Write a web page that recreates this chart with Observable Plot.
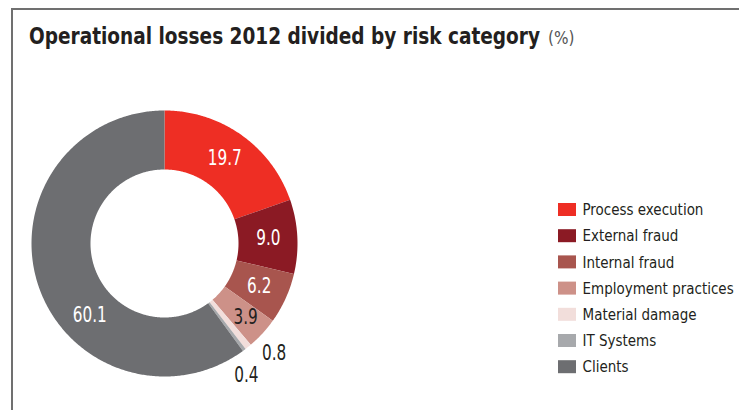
<!DOCTYPE html>
<html>
<head>
<meta charset="utf-8">
<script src="https://cdn.jsdelivr.net/npm/d3@7"></script>
<script src="https://cdn.jsdelivr.net/npm/@observablehq/plot@0.6"></script>
<style>
  html, body { margin: 0; padding: 0; background: #fff; }
  #wrap { position: relative; width: 739px; height: 410px; overflow: hidden; }
  #frame { position: absolute; left: 11px; top: 8px; right: 0; bottom: 0;
           border-top: 2px solid #707070; border-left: 2px solid #707070; }
  #title { position: absolute; left: 29px; top: 22px; white-space: nowrap; line-height: 28px;
           font-family: "DejaVu Sans Condensed", "Liberation Sans", sans-serif; color: #231f20; }
  #title .main { display: inline-block; font-weight: bold; font-size: 23px; transform-origin: 0 0; }
  #title .unit { font-weight: normal; font-size: 17px; color: #555; }
  #chart { position: absolute; left: 0; top: 0; }
</style>
</head>
<body>
<div id="wrap">
  <div id="frame"></div>
  <div id="title"><span class="main">Operational losses 2012 divided by risk category</span><span class="unit">(%)</span></div>
  <div id="chart"></div>
</div>
<script>
const categories = ["Process execution", "External fraud", "Internal fraud", "Employment practices", "Material damage", "IT Systems", "Clients"];
const values = [19.7, 9.0, 6.2, 3.9, 0.8, 0.4, 60.1];
const labels = ["19.7", "9.0", "6.2", "3.9", "0.8", "0.4", "60.1"];
const colors = ["#ee2e24", "#8b1a24", "#a8554e", "#cd9188", "#f2dedb", "#a7a9ac", "#6d6e71"];

const W = 739, H = 410;
const cx = 164, cy = 243, r0 = 74, r1 = 133;
const font = '"DejaVu Sans Condensed", "Liberation Sans", sans-serif';

// condensed title: scale horizontally to the reference width
{
  const main = document.querySelector("#title .main");
  const w = main.getBoundingClientRect().width;
  const k = 511 / w;
  main.style.transform = `scaleX(${k})`;
  main.style.marginRight = `${-(w * (1 - k)) + 8}px`;
}

const rows = categories.map((c, i) => ({category: c, value: values[i], label: labels[i], i}));
const arcs = d3.pie().sort(null).value(d => d.value)(rows);

const pts = [];
const pol = (a, r) => [cx + r * Math.sin(a), cy - r * Math.cos(a)];
for (const a of arcs) {
  const n = Math.max(4, Math.ceil((a.endAngle - a.startAngle) / 0.01));
  const ring = [];
  for (let k = 0; k <= n; k++) ring.push(pol(a.startAngle + (a.endAngle - a.startAngle) * k / n, r1));
  for (let k = n; k >= 0; k--) ring.push(pol(a.startAngle + (a.endAngle - a.startAngle) * k / n, r0));
  for (const [x, y] of ring) pts.push({category: a.data.category, x, y});
}

const deg = Math.PI / 180;
const labelData = arcs.map(a => {
  const mid = (a.startAngle + a.endAngle) / 2;
  let ang = mid, r = 104, fill = "white";
  if (a.data.value < 1) { r = 155; ang = mid + (a.data.value > 0.5 ? -6 : 5) * deg; fill = "#231f20"; }
  else if (a.data.value < 5) { r = 110; fill = "#231f20"; }
  if (a.data.value > 50) ang = a.startAngle + (a.endAngle - a.startAngle) * 0.38;
  const [x, y] = pol(ang, r);
  return {x, y, label: a.data.label, fill};
});

const legend = rows.map((d, i) => ({category: d.category, x: 558, y: 209.5 + i * 26.2}));

const plot = Plot.plot({
  width: W, height: H,
  margin: 0,
  x: {domain: [0, W], range: [0, W], axis: null},
  y: {domain: [0, H], range: [0, H], axis: null},
  color: {type: "ordinal", domain: categories, range: colors},
  style: {background: "transparent", fontFamily: font},
  marks: [
    Plot.line(pts, {x: "x", y: "y", z: "category", fill: "category", stroke: null, curve: "linear"}),
    Plot.text(labelData, {x: "x", y: "y", text: "label", fill: d => d.fill, fontSize: 20.5, textAnchor: "middle", lineAnchor: "middle", fontFamily: font, className: "vlabel"}),
    Plot.rect(legend, {x1: "x", x2: d => d.x + 18, y1: d => d.y - 6.5, y2: d => d.y + 6.5, fill: "category"}),
    Plot.text(legend, {x: d => d.x + 24, y: "y", text: "category", fill: "#231f20", fontSize: 16.5, textAnchor: "start", lineAnchor: "middle", fontFamily: font, className: "ltext"})
  ]
});
document.getElementById("chart").appendChild(plot);

// narrow the DejaVu glyphs to match the condensed reference typeface
function condense(selector, refText, target) {
  const nodes = [...plot.querySelectorAll(`${selector} text`)];
  const ref = nodes.find(n => n.textContent === refText);
  const k = target / ref.getComputedTextLength();
  for (const n of nodes) {
    n.setAttribute("textLength", n.getComputedTextLength() * k);
    n.setAttribute("lengthAdjust", "spacingAndGlyphs");
  }
}
// horizontal scaling by transform, anchored at each text's own left edge
function squeeze(selector, refText, target) {
  const nodes = [...plot.querySelectorAll(`${selector} text`)];
  const ref = nodes.find(n => n.textContent === refText);
  const k = target / ref.getComputedTextLength();
  for (const n of nodes) {
    const bb = n.getBBox();
    const x0 = bb.x;
    const t = n.getAttribute("transform") || "";
    n.setAttribute("transform", `${t} translate(${x0},0) scale(${k},1) translate(${-x0},0)`);
  }
}
squeeze(".ltext", "Process execution", 121);
condense(".vlabel", "19.7", 34);
</script>
</body>
</html>
